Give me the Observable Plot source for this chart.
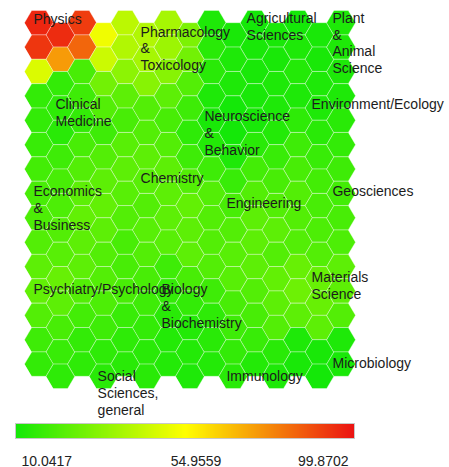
<!DOCTYPE html>
<html><head><meta charset="utf-8">
<script src="https://cdn.jsdelivr.net/npm/d3@7"></script>
<script src="https://cdn.jsdelivr.net/npm/@observablehq/plot@0.6"></script>
<style>
body{margin:0;background:#fff;}
#chart svg{display:block;}
</style></head><body><div id="chart"></div>
<script>
// SOM cell values, grid[row][col] (15 x 15, flat-top hexes, odd columns shifted down half a row)
const grid = [
  [96, 95, 92, 52, 42, 40, 38, 30, 12, 11, 10, 11, 10, 11, 12],
  [93, 74, 84, 45, 40, 38, 36, 28, 14, 12, 11, 11, 12, 11, 12],
  [48, 16, 20, 28, 33, 32, 32, 22, 14, 12, 11, 12, 13, 12, 12],
  [16, 15, 18, 22, 24, 22, 24, 18, 12, 10, 11, 12, 12, 12, 12],
  [16, 14, 16, 18, 20, 22, 20, 15, 11, 10, 11, 13, 15, 14, 14],
  [17, 18, 20, 22, 23, 24, 22, 18, 13, 12, 14, 17, 18, 17, 16],
  [19, 20, 22, 24, 24, 23, 24, 22, 18, 17, 19, 20, 20, 19, 18],
  [20, 21, 24, 25, 23, 22, 24, 25, 22, 20, 22, 22, 22, 20, 19],
  [21, 22, 25, 24, 22, 23, 24, 24, 22, 22, 24, 24, 22, 21, 20],
  [22, 23, 24, 22, 20, 22, 23, 24, 22, 23, 24, 22, 22, 22, 21],
  [24, 26, 24, 22, 20, 20, 18, 20, 22, 23, 24, 25, 26, 26, 24],
  [25, 24, 22, 21, 20, 18, 16, 16, 18, 20, 22, 24, 27, 26, 24],
  [22, 20, 19, 18, 17, 16, 14, 13, 15, 18, 20, 22, 24, 24, 22],
  [18, 17, 16, 15, 15, 14, 13, 13, 14, 16, 17, 14, 12, 11, 12],
  [16, 15, 15, 14, 14, 14, 13, 12, 13, 14, 13, 12, 11, 10, 11]
];

// Field labels and their anchor positions in grid units (column, row of first line)
const fields = ["Physics", "Pharmacology\n&\nToxicology", "Agricultural\nSciences", "Plant\n&\nAnimal\nScience",
  "Clinical\nMedicine", "Neuroscience\n&\nBehavior", "Environment/Ecology", "Chemistry",
  "Economics\n&\nBusiness", "Engineering", "Geosciences", "Psychiatry/Psychology",
  "Biology\n&\nBiochemistry", "Materials\nScience", "Microbiology", "Social\nSciences,\ngeneral", "Immunology"];
const fieldCol = [-0.25, 4.71, 9.62, 13.6, 0.77, 7.67, 12.63, 4.71, -0.25, 8.69, 13.6, -0.25, 5.68, 12.63, 13.6, 2.72, 8.69];
const fieldRow = [-0.17, 0.36, -0.21, -0.21, 3.35, 3.84, 3.35, 6.38, 6.92, 7.41, 6.92, 10.93, 10.93, 10.44, 13.97, 14.5, 14.5];

// Colour legend
const legendMin = 10.0417, legendMid = 54.9559, legendMax = 99.8702;
const legendTicks = [legendMin, legendMid, legendMax];
const legendLabels = ["10.0417", "54.9559", "99.8702"];
const rampColors = ["rgb(20,232,8)", "rgb(255,255,0)", "rgb(235,18,18)"];

const colorScale = {type: "linear", domain: legendTicks, range: rampColors, interpolate: "rgb"};

// hexagon vertices (flat-top) in grid units
const hexOffsets = [[-2/3, 0], [-1/3, -0.5], [1/3, -0.5], [2/3, 0], [1/3, 0.5], [-1/3, 0.5]];
const hexPts = [];
grid.forEach((rowVals, r) => rowVals.forEach((v, c) => {
  const cy = r + (c % 2) * 0.5;
  hexOffsets.forEach(([dx, dy]) => hexPts.push({id: r * 15 + c, x: c + dx, y: cy + dy, v}));
}));
const labelData = fields.map((t, i) => ({t, x: fieldCol[i], y: fieldRow[i]}));

const H1 = 415;
const map = Plot.plot({
  width: 449, height: H1,
  marginLeft: 24, marginRight: 94, marginTop: 10, marginBottom: H1 - 388,
  x: {domain: [-2/3, 14 + 2/3], axis: null},
  y: {domain: [-0.5, 15], reverse: true, axis: null},
  color: colorScale,
  style: {fontFamily: "'Liberation Sans', Arial, sans-serif", overflow: "visible"},
  marks: [
    Plot.line(hexPts, {x: "x", y: "y", z: "id", fill: "v", stroke: "rgba(255,255,255,0.35)", strokeWidth: 1, curve: "linear-closed"}),
    Plot.text(labelData, {x: "x", y: "y", text: "t", textAnchor: "start", lineAnchor: "top", dy: -7,
      fontSize: 14, lineHeight: 1.21, fill: "#1c1c1c"})
  ]
});

const leg = Plot.plot({
  width: 449, height: 52,
  marginLeft: 15, marginRight: 95, marginTop: 8, marginBottom: 29,
  x: {domain: [legendMin, legendMax], axis: null},
  y: {domain: [0, 1], axis: null},
  color: colorScale,
  style: {fontFamily: "'Liberation Sans', Arial, sans-serif", overflow: "visible"},
  marks: [
    Plot.raster({fill: (x, y) => x, x1: legendMin, x2: legendMax, y1: 0, y2: 1, width: 340, height: 1, imageRendering: "auto"}),
    Plot.frame({stroke: "#c8c8c8"}),
    Plot.text([0], {x: () => legendTicks[0], text: () => legendLabels[0], frameAnchor: "bottom", dy: 27, dx: 6, textAnchor: "start", fontSize: 14, fill: "#222"}),
    Plot.text([1], {x: () => legendTicks[1], text: () => legendLabels[1], frameAnchor: "bottom", dy: 27, dx: 11, textAnchor: "middle", fontSize: 14, fill: "#222"}),
    Plot.text([2], {x: () => legendTicks[2], text: () => legendLabels[2], frameAnchor: "bottom", dy: 27, dx: -6, textAnchor: "end", fontSize: 14, fill: "#222"})
  ]
});

const el = document.getElementById("chart");
el.appendChild(map);
el.appendChild(leg);
</script>
</body></html>
